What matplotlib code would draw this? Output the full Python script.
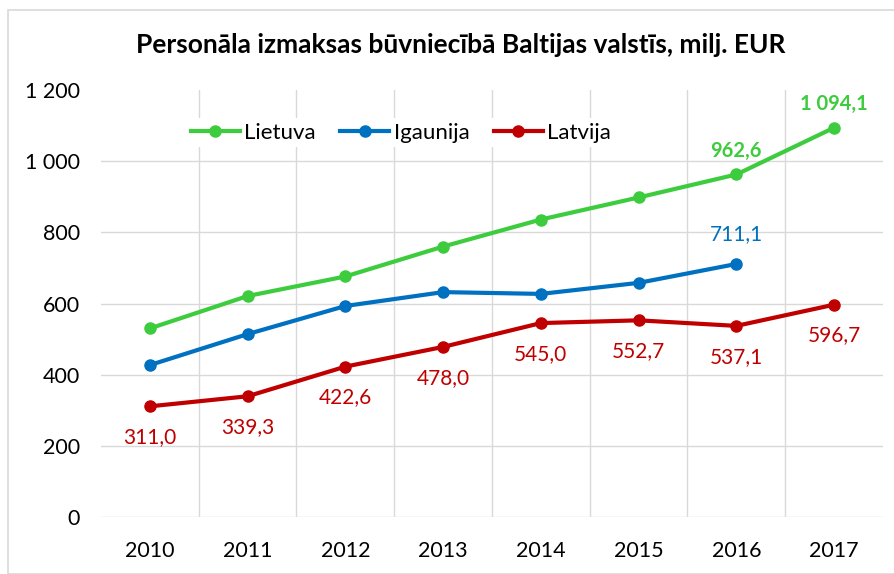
import matplotlib.pyplot as plt
from matplotlib.patches import Rectangle
from matplotlib.ticker import FuncFormatter

plt.rcParams['font.family'] = ['Lato', 'DejaVu Sans']

years = ['2010', '2011', '2012', '2013', '2014', '2015', '2016', '2017']
lietuva = [530, 621, 676, 760, 836, 898, 962.6, 1094.1]
igaunija = [427, 514, 593, 632, 627, 658, 711.1]
latvija = [311.0, 339.3, 422.6, 478.0, 545.0, 552.7, 537.1, 596.7]

green = '#3DCC3D'
blue = '#0070C0'
red = '#C00000'


def fmt(v):
    s = f'{v:,.1f}'.replace(',', ' ').replace('.', ',')
    return s


fig = plt.figure(figsize=(8.95, 5.74), dpi=100)
ax = fig.add_axes([101 / 895, 57 / 574, 782 / 895, 427 / 574])

x = list(range(len(years)))
ax.plot(x, lietuva, color=green, lw=3, marker='o', ms=8, label='Lietuva', zorder=3)
ax.plot(x[:len(igaunija)], igaunija, color=blue, lw=3, marker='o', ms=8, label='Igaunija', zorder=3)
ax.plot(x, latvija, color=red, lw=3, marker='o', ms=8, label='Latvija', zorder=3)

# data labels
for i, v in enumerate(latvija):
    ax.annotate(fmt(v), (i, v), xytext=(0, -15), textcoords='offset points',
                ha='center', va='top', color=red, fontsize=15)
for i in (6, 7):
    ax.annotate(fmt(lietuva[i]), (i, lietuva[i]), xytext=(0, 10), textcoords='offset points',
                ha='center', va='bottom', color=green, fontsize=14.5, fontweight='bold')
ax.annotate(fmt(igaunija[6]), (6, igaunija[6]), xytext=(0, 14), textcoords='offset points',
            ha='center', va='bottom', color=blue, fontsize=15)

ax.set_xlim(-0.5, len(years) - 0.5)
ax.set_ylim(0, 1200)
ax.set_yticks(range(0, 1201, 200))
ax.yaxis.set_major_formatter(FuncFormatter(lambda v, p: f'{int(v):,}'.replace(',', ' ')))
ax.set_xticks(x)
ax.set_xticklabels(years)
ax.set_xticks([i + 0.5 for i in range(len(years) - 1)], minor=True)
ax.tick_params(axis='both', which='both', length=0, labelsize=15.5, colors='#000000')
ax.tick_params(axis='x', pad=17)
ax.tick_params(axis='y', pad=15)

for yv in range(0, 1200, 200):
    ax.axhline(yv, color='#D9D9D9', lw=1, zorder=0)
ax.grid(axis='x', which='minor', color='#D9D9D9', lw=1, zorder=0)
for s in ax.spines.values():
    s.set_visible(False)

leg = ax.legend(loc='upper left', bbox_to_anchor=(0.095, 0.96), ncol=3, frameon=True,
                fontsize=16, handlelength=2.2, columnspacing=1.1, handletextpad=0.2,
                borderpad=0.2)
leg.get_frame().set_edgecolor('none')
leg.get_frame().set_facecolor('white')
leg.get_frame().set_alpha(1)

fig.text(0.515, 0.922, 'Personāla izmaksas būvniecībā Baltijas valstīs, milj. EUR',
         ha='center', va='center', fontsize=19, fontweight='bold')

fig.patches.append(Rectangle((8 / 895, 0), 1, 1 - 10 / 574, transform=fig.transFigure,
                             fill=False, edgecolor='#D9D9D9', lw=1.2))

fig.savefig('out.png', dpi=100)
